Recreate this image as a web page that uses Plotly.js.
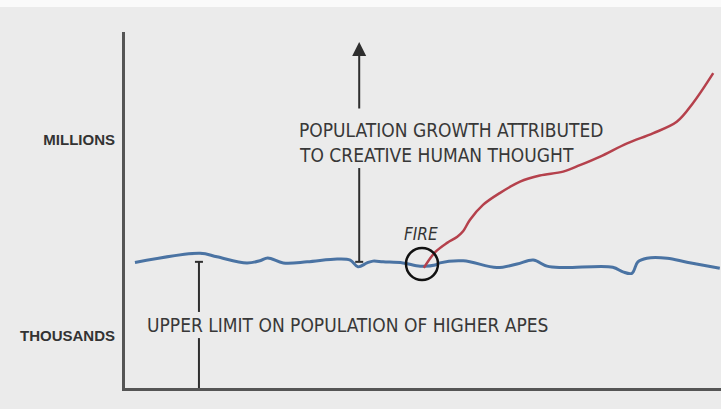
<!DOCTYPE html>
<html>
<head>
<meta charset="utf-8">
<script src="https://cdn.plot.ly/plotly-3.0.1.min.js"></script>
<style>
  html, body { margin: 0; padding: 0; background: #ebebeb; }
  #chart { width: 721px; height: 409px; }
</style>
</head>
<body>
<div id="chart"></div>
<script>
// Ape population (thousands level) over time
const apeX = [2.0, 12.9, 15.7, 20.7, 22.9, 24.2, 26.8, 30.8, 35.8, 38.0, 39.3, 40.8, 41.8, 43.5, 46.8, 49.7, 52.2, 53.0, 56.9, 62.5, 65.9, 68.6, 70.9, 73.6, 81.9, 83.6, 85.1, 86.1, 87.6, 91.0, 94.3, 99.8];
const apeY = [35.6, 38.2, 37.2, 35.5, 36.1, 36.9, 35.5, 35.8, 36.6, 36.3, 34.4, 35.5, 36.0, 35.8, 35.5, 34.6, 34.9, 35.5, 36.1, 34.2, 35.2, 36.3, 34.6, 34.2, 34.3, 33.0, 32.6, 35.8, 36.8, 36.8, 35.7, 34.0];
// Human population after fire
const humanX = [50.3, 52.2, 54.2, 55.9, 56.9, 58.0, 60.2, 63.0, 66.4, 69.7, 73.6, 76.4, 79.8, 84.3, 88.6, 92.6, 95.3, 98.7];
const humanY = [34.1, 38.5, 41.1, 42.8, 44.4, 47.5, 51.7, 55.0, 58.2, 59.9, 61.0, 62.8, 65.2, 68.9, 71.7, 74.9, 80.1, 88.5];
// Y-axis level labels
const levelVals = [70.0, 15.1];
const levelText = ['MILLIONS', 'THOUSANDS'];
// Annotation texts
const growthText = ['POPULATION GROWTH ATTRIBUTED', 'TO CREATIVE HUMAN THOUGHT'];
const limitText = 'UPPER LIMIT ON POPULATION OF HIGHER APES';
const fireText = 'FIRE';

const txtFont = { family: 'DejaVu Sans Condensed, Liberation Sans, sans-serif', size: 19, color: '#383838' };
const darkLine = '#2e2e2e';

const traces = [
  { x: apeX, y: apeY, type: 'scatter', mode: 'lines',
    line: { color: '#4a73a3', width: 3, shape: 'spline', smoothing: 1 }, hoverinfo: 'skip' },
  { x: humanX, y: humanY, type: 'scatter', mode: 'lines',
    line: { color: '#b5414c', width: 2.5, shape: 'spline', smoothing: 1 }, hoverinfo: 'skip' }
];

const layout = {
  width: 721, height: 409,
  paper_bgcolor: '#ebebeb', plot_bgcolor: '#ebebeb',
  margin: { l: 125, r: 0, t: 32, b: 21, pad: 0 },
  showlegend: false,
  xaxis: { range: [0.334, 100], showgrid: false, zeroline: false, showticklabels: false,
           ticks: '', showline: true, linecolor: '#555555', linewidth: 3, fixedrange: true },
  yaxis: { range: [0.559, 100], showgrid: false, zeroline: false,
           tickmode: 'array', tickvals: levelVals, ticktext: levelText, ticks: '',
           ticklabelstandoff: 4,
           tickfont: { family: 'Liberation Sans, Arial, sans-serif', size: 15, color: '#333333', weight: 'bold' },
           showline: true, linecolor: '#555555', linewidth: 3, fixedrange: true },
  shapes: [
    // white strip at top
    { type: 'rect', xref: 'paper', yref: 'paper', x0: -0.25, x1: 1.01, y0: 1.0702, y1: 1.1, fillcolor: '#fafafa', line: { width: 0 }, layer: 'below' },
    // lower reference line (ape limit), broken by text
    { type: 'line', x0: 12.7, x1: 12.7, y0: 35.8, y1: 21.8, line: { color: darkLine, width: 2 } },
    { type: 'line', x0: 12.7, x1: 12.7, y0: 14.5, y1: 0, line: { color: darkLine, width: 2 } },
    { type: 'line', xsizemode: 'pixel', xanchor: 12.7, x0: -4, x1: 4, y0: 35.8, y1: 35.8, line: { color: darkLine, width: 2 } },
    // upper growth arrow lower segment
    { type: 'line', x0: 39.5, x1: 39.5, y0: 35.8, y1: 62.0, line: { color: darkLine, width: 2 } },
    { type: 'line', xsizemode: 'pixel', xanchor: 39.5, x0: -4, x1: 4, y0: 35.8, y1: 35.8, line: { color: darkLine, width: 2 } },
    // fire circle
    { type: 'circle', xsizemode: 'pixel', ysizemode: 'pixel', xanchor: 50.0, yanchor: 35.2,
      x0: -16, x1: 16, y0: -16, y1: 16, line: { color: '#111111', width: 2.5 } }
  ],
  annotations: [
    { x: 39.5, y: 97.2, ax: 39.5, ay: 78.2, axref: 'x', ayref: 'y', text: '', showarrow: true,
      arrowhead: 2, arrowsize: 1.4, arrowwidth: 2, arrowcolor: darkLine },
    { x: 29.1, y: 72.6, text: growthText[0], showarrow: false, xanchor: 'left', yanchor: 'middle', font: txtFont },
    { x: 29.1, y: 65.6, text: growthText[1], showarrow: false, xanchor: 'left', yanchor: 'middle', font: txtFont },
    { x: 3.7, y: 18.2, text: limitText, showarrow: false, xanchor: 'left', yanchor: 'middle', font: txtFont },
    { x: 49.8, y: 43.6, text: '<i>' + fireText + '</i>', showarrow: false, xanchor: 'center', yanchor: 'middle',
      font: { family: txtFont.family, size: 17, color: '#333333' } }
  ]
};

Plotly.newPlot('chart', traces, layout, { staticPlot: true, displayModeBar: false });
</script>
</body>
</html>
